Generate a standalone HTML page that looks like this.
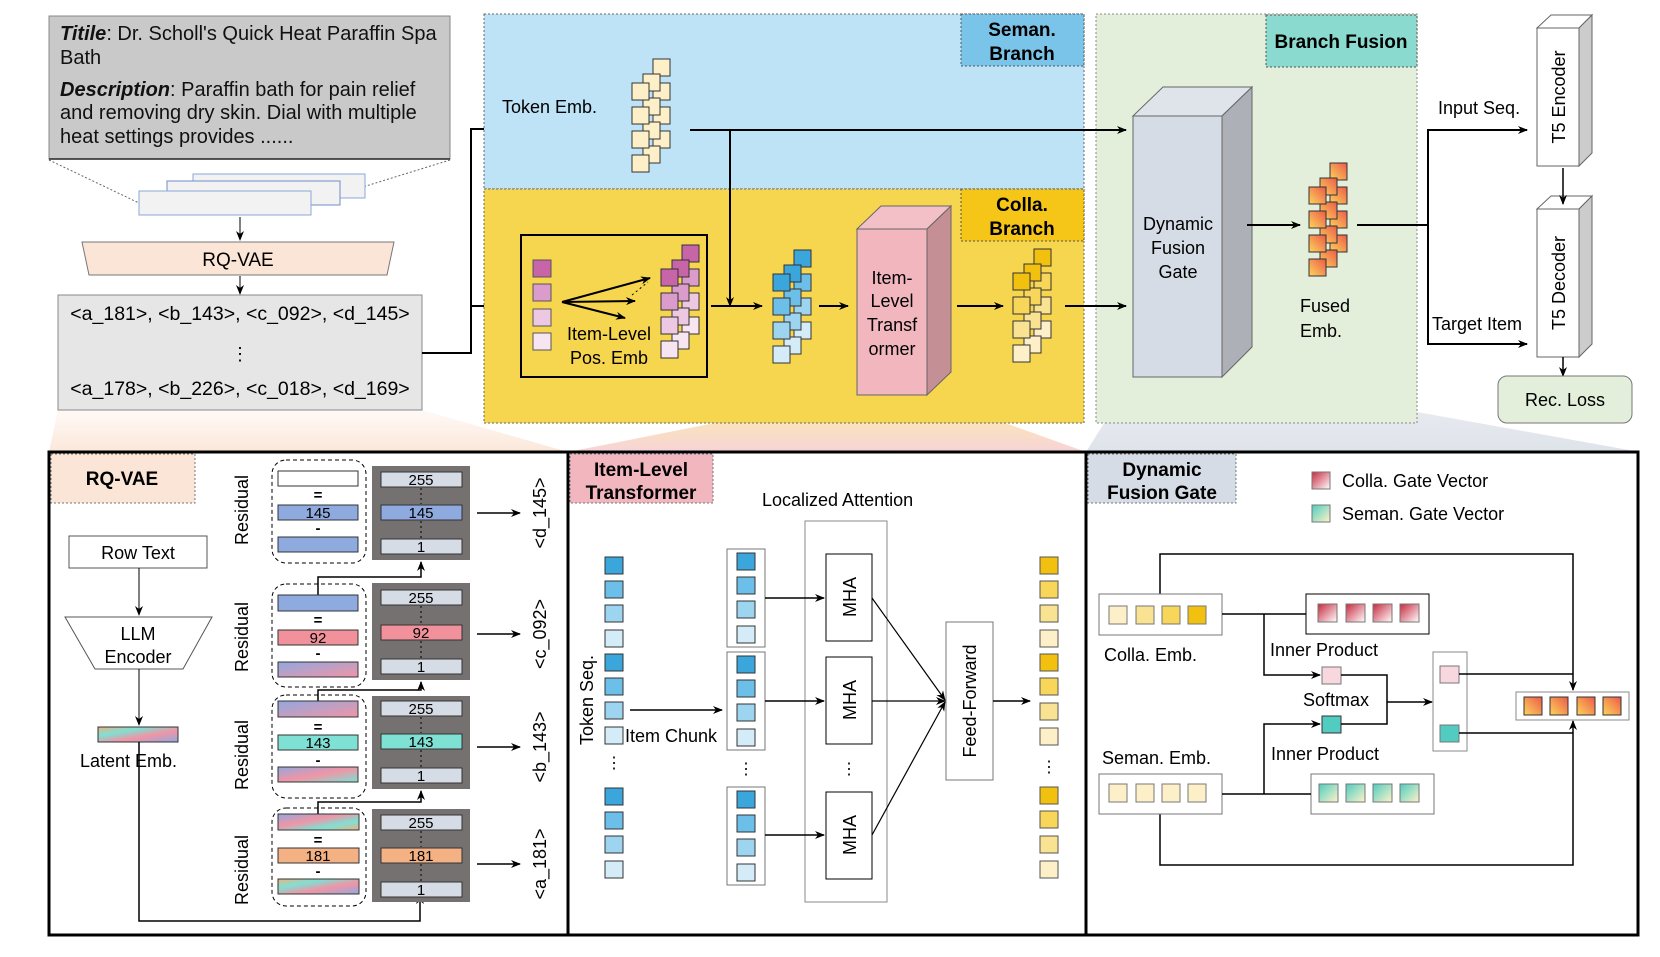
<!DOCTYPE html>
<html><head><meta charset="utf-8"><style>
html,body{margin:0;padding:0;background:#fff}
svg{display:block;font-family:"Liberation Sans",Arial,sans-serif}
</style></head><body>
<svg width="1660" height="957" viewBox="0 0 1660 957" xmlns="http://www.w3.org/2000/svg">
<defs>
<marker id="ar" markerWidth="10" markerHeight="8" refX="9" refY="4" orient="auto" markerUnits="userSpaceOnUse"><path d="M0,0 L10,4 L0,8 L3,4z" fill="#000"/></marker>
<linearGradient id="gBeige" x1="0" y1="1" x2="0" y2="0"><stop offset="0" stop-color="#fbe5d6" stop-opacity=".9"/><stop offset="1" stop-color="#fbe5d6" stop-opacity=".2"/></linearGradient>
<linearGradient id="gPink" x1="0" y1="1" x2="0" y2="0"><stop offset="0" stop-color="#f4c0c8" stop-opacity=".7"/><stop offset="1" stop-color="#f7d54e" stop-opacity=".4"/></linearGradient>
<linearGradient id="gGray" x1="0" y1="1" x2="0" y2="0"><stop offset="0" stop-color="#d6dce5" stop-opacity=".8"/><stop offset="1" stop-color="#d6dce5" stop-opacity=".4"/></linearGradient>
<linearGradient id="gOr" x1="0" y1="1" x2="1" y2="0"><stop offset="0" stop-color="#fdd55a"/><stop offset="1" stop-color="#ec5a4a"/></linearGradient>
<linearGradient id="gRed" x1="0" y1="0" x2="1" y2="1"><stop offset="0" stop-color="#c8283e"/><stop offset="1" stop-color="#fff"/></linearGradient>
<linearGradient id="gTeal" x1="0" y1="0" x2="1" y2="1"><stop offset="0" stop-color="#4ecdc0"/><stop offset="1" stop-color="#fff3c8"/></linearGradient>
<linearGradient id="gMix1" x1="0" y1="0" x2="1" y2="1"><stop offset="0" stop-color="#92a8e0"/><stop offset="1" stop-color="#f095a5"/></linearGradient>
<linearGradient id="gMix2" x1="0" y1="0" x2="1" y2="1"><stop offset="0" stop-color="#92a8e0"/><stop offset=".5" stop-color="#f095a5"/><stop offset="1" stop-color="#7fe0d4"/></linearGradient>
<linearGradient id="gMix3" x1="0" y1="0" x2="1" y2="1"><stop offset="0" stop-color="#f0b080"/><stop offset=".3" stop-color="#7fe0d4"/><stop offset=".6" stop-color="#f095a5"/><stop offset="1" stop-color="#92a8e0"/></linearGradient>
<linearGradient id="gMix4" x1="0" y1="0" x2="1" y2="1"><stop offset="0" stop-color="#92a8e0"/><stop offset=".4" stop-color="#f095a5"/><stop offset=".7" stop-color="#7fe0d4"/><stop offset="1" stop-color="#f0b080"/></linearGradient>
</defs>

<polygon points="58,410 422,410 568,452 49,452" fill="url(#gBeige)"/>
<polygon points="857,395 927,395 1086,452 568,452" fill="url(#gPink)"/>
<polygon points="1133,377 1222,377 1640,452 1086,452" fill="url(#gGray)"/>

<rect x="49" y="16" width="401" height="143" fill="#c9c9c9" stroke="#888"/>
<line x1="49" y1="159" x2="450" y2="159" stroke="#222" stroke-width="1.5"/>
<text font-size="20" fill="#111"><tspan x="60" y="40"><tspan font-weight="bold" font-style="italic">Titile</tspan>: Dr. Scholl's Quick Heat Paraffin Spa</tspan><tspan x="60" y="64">Bath</tspan><tspan x="60" y="96"><tspan font-weight="bold" font-style="italic">Description</tspan>: Paraffin bath for pain relief</tspan><tspan x="60" y="119">and removing dry skin. Dial with multiple</tspan><tspan x="60" y="143">heat settings provides  ......</tspan></text>
<line x1="49" y1="160" x2="139" y2="203" stroke="#666" stroke-dasharray="2,2"/>
<line x1="450" y1="160" x2="311" y2="203" stroke="#666" stroke-dasharray="2,2"/>
<rect x="193" y="174" width="172" height="24" fill="#f2f2f2" stroke="#8fa6d8"/>
<rect x="167" y="181" width="173" height="24" fill="#f2f2f2" stroke="#6f8cc8"/>
<rect x="139" y="191" width="172" height="24" fill="#f2f2f2" stroke="#8fa6d8"/>
<line x1="240" y1="217" x2="240" y2="240" stroke="#000" marker-end="url(#ar)"/>
<polygon points="82,242 394,242 387,275 89,275" fill="#fbe5d6" stroke="#777"/>
<text x="238" y="266" font-size="19" text-anchor="middle">RQ-VAE</text>
<line x1="240" y1="276" x2="240" y2="294" stroke="#000" marker-end="url(#ar)"/>
<rect x="58" y="295" width="364" height="115" fill="#e6e6e6" stroke="#888"/>
<text x="240" y="320" font-size="19.5" text-anchor="middle">&lt;a_181&gt;, &lt;b_143&gt;, &lt;c_092&gt;, &lt;d_145&gt;</text>
<text x="240" y="360" font-size="18" text-anchor="middle">⋮</text>
<text x="240" y="395" font-size="19.5" text-anchor="middle">&lt;a_178&gt;, &lt;b_226&gt;, &lt;c_018&gt;, &lt;d_169&gt;</text>
<polyline points="422,353 471,353 471,129 617,129" fill="none" stroke="#000" stroke-width="2" marker-end="url(#ar)"/>
<line x1="471" y1="306" x2="520" y2="306" stroke="#000" stroke-width="2" marker-end="url(#ar)"/>

<rect x="484" y="14" width="600" height="175" fill="#bee3f6" stroke="#666" stroke-dasharray="2,2"/>
<rect x="484" y="189" width="600" height="234" fill="#f7d64f" stroke="#666" stroke-dasharray="2,2"/>
<rect x="961" y="14" width="123" height="52" fill="#7bc4e9" stroke="#555" stroke-dasharray="2,2"/>
<text x="1022" y="36" font-size="19" font-weight="bold" text-anchor="middle">Seman.</text>
<text x="1022" y="60" font-size="19" font-weight="bold" text-anchor="middle">Branch</text>
<rect x="961" y="189" width="123" height="52" fill="#f5c518" stroke="#555" stroke-dasharray="2,2"/>
<text x="1022" y="211" font-size="19" font-weight="bold" text-anchor="middle">Colla.</text>
<text x="1022" y="235" font-size="19" font-weight="bold" text-anchor="middle">Branch</text>
<rect x="1096" y="14" width="321" height="409" fill="#e3efda" stroke="#888" stroke-dasharray="2,2"/>
<rect x="1266" y="15" width="151" height="52" fill="#8adad0" stroke="#555" stroke-dasharray="2,2"/>
<text x="1341" y="48" font-size="19" font-weight="bold" text-anchor="middle">Branch Fusion</text>

<text x="502" y="113" font-size="18">Token Emb.</text>
<g transform="translate(632,59)" stroke="#333" stroke-width="1">
<rect x="21" y="0" width="17" height="17" fill="#fdf0c8"/><rect x="21" y="24" width="17" height="17" fill="#fdf0c8"/><rect x="21" y="48" width="17" height="17" fill="#fdf0c8"/><rect x="21" y="72" width="17" height="17" fill="#fdf0c8"/>
<rect x="11" y="15" width="17" height="17" fill="#fdf0c8"/><rect x="11" y="39" width="17" height="17" fill="#fdf0c8"/><rect x="11" y="63" width="17" height="17" fill="#fdf0c8"/><rect x="11" y="87" width="17" height="17" fill="#fdf0c8"/>
<rect x="0" y="24" width="17" height="17" fill="#fdf0c8"/><rect x="0" y="48" width="17" height="17" fill="#fdf0c8"/><rect x="0" y="72" width="17" height="17" fill="#fdf0c8"/><rect x="0" y="96" width="17" height="17" fill="#fdf0c8"/>
</g>
<line x1="690" y1="130" x2="1126" y2="130" stroke="#000" stroke-width="2" marker-end="url(#ar)"/>
<line x1="730" y1="130" x2="730" y2="306" stroke="#000" stroke-width="2" marker-end="url(#ar)"/>

<rect x="521" y="235" width="186" height="142" fill="none" stroke="#000" stroke-width="2"/>
<rect x="533" y="260" width="18" height="17" fill="#c864a8" stroke="#555"/>
<rect x="533" y="284" width="18" height="17" fill="#dc9ccb" stroke="#555"/>
<rect x="533" y="309" width="18" height="17" fill="#ecc8e2" stroke="#555"/>
<rect x="533" y="333" width="18" height="17" fill="#f7e6f1" stroke="#555"/>
<line x1="562" y1="302" x2="650" y2="278" stroke="#000" stroke-width="2" marker-end="url(#ar)"/>
<line x1="562" y1="302" x2="635" y2="301" stroke="#000" stroke-width="2" marker-end="url(#ar)"/>
<line x1="562" y1="302" x2="625" y2="318" stroke="#000" stroke-width="2" marker-end="url(#ar)"/>
<line x1="632" y1="295" x2="648" y2="282" stroke="#000" stroke-dasharray="2,3"/>
<text x="609" y="340" font-size="18" text-anchor="middle">Item-Level</text>
<text x="609" y="364" font-size="18" text-anchor="middle">Pos. Emb</text>
<g transform="translate(661,245)" stroke="#333" stroke-width="1">
<rect x="21" y="0" width="17" height="17" fill="#c864a8"/><rect x="21" y="24" width="17" height="17" fill="#dc9ccb"/><rect x="21" y="48" width="17" height="17" fill="#ecc8e2"/><rect x="21" y="72" width="17" height="17" fill="#f7e6f1"/>
<rect x="11" y="15" width="17" height="17" fill="#c864a8"/><rect x="11" y="39" width="17" height="17" fill="#dc9ccb"/><rect x="11" y="63" width="17" height="17" fill="#ecc8e2"/><rect x="11" y="87" width="17" height="17" fill="#f7e6f1"/>
<rect x="0" y="24" width="17" height="17" fill="#c864a8"/><rect x="0" y="48" width="17" height="17" fill="#dc9ccb"/><rect x="0" y="72" width="17" height="17" fill="#ecc8e2"/><rect x="0" y="96" width="17" height="17" fill="#f7e6f1"/>
</g>
<line x1="711" y1="306" x2="762" y2="306" stroke="#000" stroke-width="2" marker-end="url(#ar)"/>
<g transform="translate(773,250)" stroke="#333" stroke-width="1">
<rect x="21" y="0" width="17" height="17" fill="#3aa6dc"/><rect x="21" y="24" width="17" height="17" fill="#6cbfe8"/><rect x="21" y="48" width="17" height="17" fill="#9dd4f0"/><rect x="21" y="72" width="17" height="17" fill="#d3ecf8"/>
<rect x="11" y="15" width="17" height="17" fill="#3aa6dc"/><rect x="11" y="39" width="17" height="17" fill="#6cbfe8"/><rect x="11" y="63" width="17" height="17" fill="#9dd4f0"/><rect x="11" y="87" width="17" height="17" fill="#d3ecf8"/>
<rect x="0" y="24" width="17" height="17" fill="#3aa6dc"/><rect x="0" y="48" width="17" height="17" fill="#6cbfe8"/><rect x="0" y="72" width="17" height="17" fill="#9dd4f0"/><rect x="0" y="96" width="17" height="17" fill="#d3ecf8"/>
</g>
<line x1="819" y1="306" x2="848" y2="306" stroke="#000" stroke-width="2" marker-end="url(#ar)"/>
<polygon points="857,229 881,206 951,206 927,229" fill="#f4c0c8" stroke="#666"/>
<polygon points="927,229 951,206 951,372 927,395" fill="#c58f96" stroke="#666"/>
<rect x="857" y="229" width="70" height="166" fill="#f2b6bf" stroke="#666"/>
<text x="892" y="284" font-size="18" text-anchor="middle">Item-</text>
<text x="892" y="307" font-size="18" text-anchor="middle">Level</text>
<text x="892" y="331" font-size="18" text-anchor="middle">Transf</text>
<text x="892" y="355" font-size="18" text-anchor="middle">ormer</text>
<line x1="957" y1="306" x2="1003" y2="306" stroke="#000" stroke-width="2" marker-end="url(#ar)"/>
<g transform="translate(1013,249)" stroke="#333" stroke-width="1">
<rect x="21" y="0" width="17" height="17" fill="#f2c110"/><rect x="21" y="24" width="17" height="17" fill="#f8d65a"/><rect x="21" y="48" width="17" height="17" fill="#fae293"/><rect x="21" y="72" width="17" height="17" fill="#fdf0c8"/>
<rect x="11" y="15" width="17" height="17" fill="#f2c110"/><rect x="11" y="39" width="17" height="17" fill="#f8d65a"/><rect x="11" y="63" width="17" height="17" fill="#fae293"/><rect x="11" y="87" width="17" height="17" fill="#fdf0c8"/>
<rect x="0" y="24" width="17" height="17" fill="#f2c110"/><rect x="0" y="48" width="17" height="17" fill="#f8d65a"/><rect x="0" y="72" width="17" height="17" fill="#fae293"/><rect x="0" y="96" width="17" height="17" fill="#fdf0c8"/>
</g>
<line x1="1065" y1="306" x2="1126" y2="306" stroke="#000" stroke-width="2" marker-end="url(#ar)"/>

<polygon points="1133,116 1163,87 1252,87 1222,116" fill="#dfe3ea" stroke="#666"/>
<polygon points="1222,116 1252,87 1252,347 1222,377" fill="#adb0b6" stroke="#666"/>
<rect x="1133" y="116" width="89" height="261" fill="#d6dce5" stroke="#666"/>
<text x="1178" y="230" font-size="18" text-anchor="middle">Dynamic</text>
<text x="1178" y="254" font-size="18" text-anchor="middle">Fusion</text>
<text x="1178" y="278" font-size="18" text-anchor="middle">Gate</text>
<line x1="1247" y1="225" x2="1300" y2="225" stroke="#000" stroke-width="2" marker-end="url(#ar)"/>
<g transform="translate(1309,163)" stroke="#333" stroke-width="1">
<rect x="21" y="0" width="17" height="17" fill="url(#gOr)"/><rect x="21" y="24" width="17" height="17" fill="url(#gOr)"/><rect x="21" y="48" width="17" height="17" fill="url(#gOr)"/><rect x="21" y="72" width="17" height="17" fill="url(#gOr)"/>
<rect x="11" y="15" width="17" height="17" fill="url(#gOr)"/><rect x="11" y="39" width="17" height="17" fill="url(#gOr)"/><rect x="11" y="63" width="17" height="17" fill="url(#gOr)"/><rect x="11" y="87" width="17" height="17" fill="url(#gOr)"/>
<rect x="0" y="24" width="17" height="17" fill="url(#gOr)"/><rect x="0" y="48" width="17" height="17" fill="url(#gOr)"/><rect x="0" y="72" width="17" height="17" fill="url(#gOr)"/><rect x="0" y="96" width="17" height="17" fill="url(#gOr)"/>
</g>
<text x="1300" y="312" font-size="18">Fused</text>
<text x="1300" y="337" font-size="18">Emb.</text>
<line x1="1357" y1="225" x2="1428" y2="225" stroke="#000" stroke-width="2"/>
<polyline points="1428,130 1428,344" fill="none" stroke="#000" stroke-width="2"/>
<line x1="1427" y1="130" x2="1527" y2="130" stroke="#000" stroke-width="2" marker-end="url(#ar)"/>
<line x1="1427" y1="344" x2="1527" y2="344" stroke="#000" stroke-width="2" marker-end="url(#ar)"/>
<text x="1438" y="114" font-size="18">Input Seq.</text>
<text x="1432" y="330" font-size="18">Target Item</text>
<polygon points="1537,28 1551,15 1592,15 1579,28" fill="#fff" stroke="#666"/>
<polygon points="1579,28 1592,15 1592,153 1579,166" fill="#ccc" stroke="#666"/>
<rect x="1537" y="28" width="42" height="138" fill="#fff" stroke="#666"/>
<text transform="translate(1565,97) rotate(-90)" font-size="18" text-anchor="middle">T5 Encoder</text>
<polygon points="1537,209 1551,196 1592,196 1579,209" fill="#fff" stroke="#666"/>
<polygon points="1579,209 1592,196 1592,344 1579,357" fill="#ccc" stroke="#666"/>
<rect x="1537" y="209" width="42" height="148" fill="#fff" stroke="#666"/>
<text transform="translate(1565,283) rotate(-90)" font-size="18" text-anchor="middle">T5 Decoder</text>
<line x1="1563" y1="168" x2="1563" y2="204" stroke="#000" stroke-width="1.5" marker-end="url(#ar)"/>
<line x1="1563" y1="357" x2="1563" y2="376" stroke="#000" stroke-width="1.5" marker-end="url(#ar)"/>
<rect x="1498" y="376" width="134" height="47" rx="9" fill="#e3efda" stroke="#777"/>
<text x="1565" y="406" font-size="18" text-anchor="middle">Rec. Loss</text>

<rect x="49" y="452" width="1591" height="483" fill="#fff" stroke="none"/>
<rect x="49" y="452" width="519" height="483" fill="none" stroke="#000" stroke-width="3"/>
<rect x="568" y="452" width="518" height="483" fill="none" stroke="#000" stroke-width="3"/>
<rect x="1086" y="452" width="552" height="483" fill="none" stroke="#000" stroke-width="3"/>

<rect x="51" y="454" width="144" height="49" fill="#fbe5d6" stroke="#777" stroke-dasharray="2,2"/>
<text x="122" y="485" font-size="19" font-weight="bold" text-anchor="middle">RQ-VAE</text>
<rect x="69" y="536" width="138" height="32" fill="#fff" stroke="#555"/>
<text x="138" y="559" font-size="18" text-anchor="middle">Row Text</text>
<line x1="139" y1="568" x2="139" y2="615" stroke="#000" marker-end="url(#ar)"/>
<polygon points="65,617 212,617 183,669 95,669" fill="#fff" stroke="#555"/>
<text x="138" y="640" font-size="18" text-anchor="middle">LLM</text>
<text x="138" y="663" font-size="18" text-anchor="middle">Encoder</text>
<line x1="139" y1="669" x2="139" y2="725" stroke="#000" marker-end="url(#ar)"/>
<rect x="98" y="727" width="80" height="15" fill="url(#gMix3)" stroke="#333"/>
<text x="80" y="767" font-size="18">Latent Emb.</text>
<polyline points="139,742 139,921 420,921 420,895" fill="none" stroke="#000" stroke-width="1.5" marker-end="url(#ar)"/>

<g font-size="15" text-anchor="middle">
<text transform="translate(248,510) rotate(-90)" font-size="18">Residual</text>
<rect x="272" y="460" width="94" height="103" rx="14" fill="none" stroke="#000" stroke-dasharray="4,3"/>
<rect x="278" y="471" width="80" height="15" fill="#fff" stroke="#333"/>
<text x="318" y="500" font-weight="bold">=</text>
<rect x="278" y="505" width="80" height="15" fill="#8faadf" stroke="#333"/><text x="318" y="518">145</text>
<text x="318" y="533" font-weight="bold">-</text>
<rect x="278" y="537" width="80" height="15" fill="#8faadf" stroke="#333"/>
<rect x="372" y="466" width="98" height="94" fill="#767171"/>
<rect x="381" y="472" width="81" height="15" fill="#d6dce5" stroke="#333"/><text x="421" y="485">255</text>
<rect x="381" y="505" width="81" height="15" fill="#8faadf" stroke="#333"/><text x="421" y="518">145</text>
<rect x="381" y="539" width="81" height="15" fill="#d6dce5" stroke="#333"/><text x="421" y="552">1</text>
<line x1="421" y1="488" x2="421" y2="504" stroke="#000" stroke-dasharray="2,3"/>
<line x1="421" y1="521" x2="421" y2="538" stroke="#000" stroke-dasharray="2,3"/>
<line x1="477" y1="513" x2="520" y2="513" stroke="#000" stroke-width="1.5" marker-end="url(#ar)"/>
<text transform="translate(546,513) rotate(-90)" font-size="18">&lt;d_145&gt;</text>
<polyline points="318,595 318,577 421,577 421,562" fill="none" stroke="#000" stroke-width="1.5" marker-end="url(#ar)"/>
<text transform="translate(248,637) rotate(-90)" font-size="18">Residual</text>
<rect x="272" y="584" width="94" height="103" rx="14" fill="none" stroke="#000" stroke-dasharray="4,3"/>
<rect x="278" y="595" width="80" height="16" fill="#8faadf" stroke="#333"/>
<text x="318" y="625" font-weight="bold">=</text>
<rect x="278" y="630" width="80" height="15" fill="#f0919b" stroke="#333"/><text x="318" y="643">92</text>
<text x="318" y="658" font-weight="bold">-</text>
<rect x="278" y="662" width="80" height="15" fill="url(#gMix1)" stroke="#333"/>
<rect x="372" y="583" width="98" height="97" fill="#767171"/>
<rect x="381" y="590" width="81" height="15" fill="#d6dce5" stroke="#333"/><text x="421" y="603">255</text>
<rect x="381" y="625" width="81" height="15" fill="#f0919b" stroke="#333"/><text x="421" y="638">92</text>
<rect x="381" y="659" width="81" height="15" fill="#d6dce5" stroke="#333"/><text x="421" y="672">1</text>
<line x1="421" y1="606" x2="421" y2="624" stroke="#000" stroke-dasharray="2,3"/>
<line x1="421" y1="641" x2="421" y2="658" stroke="#000" stroke-dasharray="2,3"/>
<line x1="477" y1="634" x2="520" y2="634" stroke="#000" stroke-width="1.5" marker-end="url(#ar)"/>
<text transform="translate(546,634) rotate(-90)" font-size="18">&lt;c_092&gt;</text>
<polyline points="318,701 318,690 421,690 421,682" fill="none" stroke="#000" stroke-width="1.5" marker-end="url(#ar)"/>
<text transform="translate(248,755) rotate(-90)" font-size="18">Residual</text>
<rect x="272" y="695" width="94" height="103" rx="14" fill="none" stroke="#000" stroke-dasharray="4,3"/>
<rect x="278" y="701" width="80" height="16" fill="url(#gMix1)" stroke="#333"/>
<text x="318" y="732" font-weight="bold">=</text>
<rect x="278" y="735" width="80" height="15" fill="#7fe0d4" stroke="#333"/><text x="318" y="748">143</text>
<text x="318" y="765" font-weight="bold">-</text>
<rect x="278" y="767" width="80" height="15" fill="url(#gMix2)" stroke="#333"/>
<rect x="372" y="696" width="98" height="93" fill="#767171"/>
<rect x="381" y="701" width="81" height="15" fill="#d6dce5" stroke="#333"/><text x="421" y="714">255</text>
<rect x="381" y="734" width="81" height="15" fill="#7fe0d4" stroke="#333"/><text x="421" y="747">143</text>
<rect x="381" y="768" width="81" height="15" fill="#d6dce5" stroke="#333"/><text x="421" y="781">1</text>
<line x1="421" y1="717" x2="421" y2="733" stroke="#000" stroke-dasharray="2,3"/>
<line x1="421" y1="750" x2="421" y2="767" stroke="#000" stroke-dasharray="2,3"/>
<line x1="477" y1="747" x2="520" y2="747" stroke="#000" stroke-width="1.5" marker-end="url(#ar)"/>
<text transform="translate(546,747) rotate(-90)" font-size="18">&lt;b_143&gt;</text>
<polyline points="318,814 318,802 421,802 421,791" fill="none" stroke="#000" stroke-width="1.5" marker-end="url(#ar)"/>
<text transform="translate(248,870) rotate(-90)" font-size="18">Residual</text>
<rect x="272" y="808" width="94" height="98" rx="14" fill="none" stroke="#000" stroke-dasharray="4,3"/>
<rect x="278" y="814" width="81" height="16" fill="url(#gMix4)" stroke="#333"/>
<text x="318" y="845" font-weight="bold">=</text>
<rect x="278" y="848" width="81" height="15" fill="#f4b183" stroke="#333"/><text x="318" y="861">181</text>
<text x="318" y="876" font-weight="bold">-</text>
<rect x="278" y="879" width="81" height="15" fill="url(#gMix3)" stroke="#333"/>
<rect x="372" y="809" width="98" height="93" fill="#767171"/>
<rect x="381" y="815" width="81" height="15" fill="#d6dce5" stroke="#333"/><text x="421" y="828">255</text>
<rect x="381" y="848" width="81" height="15" fill="#f4b183" stroke="#333"/><text x="421" y="861">181</text>
<rect x="381" y="882" width="81" height="15" fill="#d6dce5" stroke="#333"/><text x="421" y="895">1</text>
<line x1="421" y1="831" x2="421" y2="847" stroke="#000" stroke-dasharray="2,3"/>
<line x1="421" y1="864" x2="421" y2="881" stroke="#000" stroke-dasharray="2,3"/>
<line x1="477" y1="864" x2="520" y2="864" stroke="#000" stroke-width="1.5" marker-end="url(#ar)"/>
<text transform="translate(546,864) rotate(-90)" font-size="18">&lt;a_181&gt;</text>
</g>

<rect x="570" y="454" width="143" height="49" fill="#f2b6bf" stroke="#777" stroke-dasharray="2,2"/>
<text x="641" y="476" font-size="19" font-weight="bold" text-anchor="middle">Item-Level</text>
<text x="641" y="499" font-size="19" font-weight="bold" text-anchor="middle">Transformer</text>
<text x="762" y="506" font-size="18">Localized Attention</text>
<g stroke="#333">
<rect x="605" y="557" width="18" height="17" fill="#3aa6dc"/><rect x="605" y="581" width="18" height="17" fill="#6cbfe8"/><rect x="605" y="605" width="18" height="17" fill="#9dd4f0"/><rect x="605" y="630" width="18" height="17" fill="#d3ecf8"/>
<rect x="605" y="654" width="18" height="17" fill="#3aa6dc"/><rect x="605" y="678" width="18" height="17" fill="#6cbfe8"/><rect x="605" y="702" width="18" height="17" fill="#9dd4f0"/><rect x="605" y="727" width="18" height="17" fill="#d3ecf8"/>
<rect x="605" y="788" width="18" height="17" fill="#3aa6dc"/><rect x="605" y="812" width="18" height="17" fill="#6cbfe8"/><rect x="605" y="836" width="18" height="17" fill="#9dd4f0"/><rect x="605" y="861" width="18" height="17" fill="#d3ecf8"/>
</g>
<text x="614" y="768" font-size="16" text-anchor="middle">⋮</text>
<text transform="translate(593,700) rotate(-90)" font-size="18" text-anchor="middle">Token Seq.</text>
<text x="625" y="742" font-size="18">Item Chunk</text>
<line x1="630" y1="710" x2="722" y2="710" stroke="#000" stroke-width="1.5" marker-end="url(#ar)"/>
<g stroke="#333">
<rect x="727" y="549" width="38" height="98" fill="#fff" stroke="#777"/>
<rect x="737" y="553" width="18" height="17" fill="#3aa6dc"/><rect x="737" y="577" width="18" height="17" fill="#6cbfe8"/><rect x="737" y="601" width="18" height="17" fill="#9dd4f0"/><rect x="737" y="626" width="18" height="17" fill="#d3ecf8"/>
<rect x="727" y="652" width="38" height="98" fill="#fff" stroke="#777"/>
<rect x="737" y="656" width="18" height="17" fill="#3aa6dc"/><rect x="737" y="680" width="18" height="17" fill="#6cbfe8"/><rect x="737" y="704" width="18" height="17" fill="#9dd4f0"/><rect x="737" y="729" width="18" height="17" fill="#d3ecf8"/>
<rect x="727" y="787" width="38" height="98" fill="#fff" stroke="#777"/>
<rect x="737" y="791" width="18" height="17" fill="#3aa6dc"/><rect x="737" y="815" width="18" height="17" fill="#6cbfe8"/><rect x="737" y="839" width="18" height="17" fill="#9dd4f0"/><rect x="737" y="864" width="18" height="17" fill="#d3ecf8"/>
</g>
<text x="746" y="774" font-size="16" text-anchor="middle">⋮</text>
<rect x="805" y="521" width="82" height="381" fill="none" stroke="#888"/>
<rect x="826" y="554" width="46" height="87" fill="#fff" stroke="#000"/>
<rect x="826" y="657" width="46" height="87" fill="#fff" stroke="#000"/>
<rect x="826" y="792" width="46" height="87" fill="#fff" stroke="#000"/>
<text transform="translate(856,597) rotate(-90)" font-size="18" text-anchor="middle">MHA</text>
<text transform="translate(856,700) rotate(-90)" font-size="18" text-anchor="middle">MHA</text>
<text transform="translate(856,835) rotate(-90)" font-size="18" text-anchor="middle">MHA</text>
<text x="849" y="774" font-size="16" text-anchor="middle">⋮</text>
<line x1="765" y1="598" x2="824" y2="598" stroke="#000" stroke-width="1.5" marker-end="url(#ar)"/>
<line x1="765" y1="701" x2="824" y2="701" stroke="#000" stroke-width="1.5" marker-end="url(#ar)"/>
<line x1="765" y1="835" x2="824" y2="835" stroke="#000" stroke-width="1.5" marker-end="url(#ar)"/>
<line x1="872" y1="598" x2="945" y2="700" stroke="#000" stroke-width="1.2" marker-end="url(#ar)"/>
<line x1="872" y1="701" x2="945" y2="701" stroke="#000" stroke-width="1.2" marker-end="url(#ar)"/>
<line x1="872" y1="835" x2="945" y2="702" stroke="#000" stroke-width="1.2" marker-end="url(#ar)"/>
<rect x="946" y="622" width="47" height="158" fill="#fff" stroke="#777"/>
<text transform="translate(976,701) rotate(-90)" font-size="18" text-anchor="middle">Feed-Forward</text>
<line x1="993" y1="701" x2="1030" y2="701" stroke="#000" stroke-width="1.5" marker-end="url(#ar)"/>
<g stroke="#555">
<rect x="1040" y="557" width="18" height="17" fill="#f2c110"/><rect x="1040" y="581" width="18" height="17" fill="#f8d65a"/><rect x="1040" y="605" width="18" height="17" fill="#fae293"/><rect x="1040" y="630" width="18" height="17" fill="#fdf0c8"/>
<rect x="1040" y="654" width="18" height="17" fill="#f2c110"/><rect x="1040" y="678" width="18" height="17" fill="#f8d65a"/><rect x="1040" y="703" width="18" height="17" fill="#fae293"/><rect x="1040" y="728" width="18" height="17" fill="#fdf0c8"/>
<rect x="1040" y="787" width="18" height="17" fill="#f2c110"/><rect x="1040" y="811" width="18" height="17" fill="#f8d65a"/><rect x="1040" y="836" width="18" height="17" fill="#fae293"/><rect x="1040" y="861" width="18" height="17" fill="#fdf0c8"/>
</g>
<text x="1049" y="772" font-size="16" text-anchor="middle">⋮</text>

<rect x="1088" y="454" width="148" height="49" fill="#d6dce5" stroke="#777" stroke-dasharray="2,2"/>
<text x="1162" y="476" font-size="19" font-weight="bold" text-anchor="middle">Dynamic</text>
<text x="1162" y="499" font-size="19" font-weight="bold" text-anchor="middle">Fusion Gate</text>
<rect x="1312" y="472" width="18" height="17" fill="url(#gRed)" stroke="#777"/>
<text x="1342" y="487" font-size="18">Colla. Gate Vector</text>
<rect x="1312" y="505" width="18" height="17" fill="url(#gTeal)" stroke="#777"/>
<text x="1342" y="520" font-size="18">Seman. Gate Vector</text>

<polyline points="1160,594 1160,554 1573,554 1573,690" fill="none" stroke="#000" stroke-width="1.5" marker-end="url(#ar)"/>
<polyline points="1160,814 1160,865 1573,865 1573,721" fill="none" stroke="#000" stroke-width="1.5" marker-end="url(#ar)"/>
<rect x="1099" y="594" width="123" height="41" fill="#fff" stroke="#777"/>
<g stroke="#777"><rect x="1109" y="606" width="18" height="18" fill="#fdf0c8"/><rect x="1136" y="606" width="18" height="18" fill="#fae293"/><rect x="1162" y="606" width="18" height="18" fill="#f8d65a"/><rect x="1188" y="606" width="18" height="18" fill="#f2c110"/></g>
<text x="1104" y="661" font-size="18">Colla. Emb.</text>
<rect x="1306" y="594" width="123" height="40" fill="#fff" stroke="#000"/>
<g stroke="#777"><rect x="1318" y="604" width="19" height="18" fill="url(#gRed)"/><rect x="1346" y="604" width="19" height="18" fill="url(#gRed)"/><rect x="1373" y="604" width="19" height="18" fill="url(#gRed)"/><rect x="1400" y="604" width="19" height="18" fill="url(#gRed)"/></g>
<line x1="1222" y1="614" x2="1306" y2="614" stroke="#000" stroke-width="1.5"/>
<polyline points="1264,614 1264,675 1320,675" fill="none" stroke="#000" stroke-width="1.5" marker-end="url(#ar)"/>
<text x="1270" y="656" font-size="18">Inner Product</text>
<rect x="1322" y="667" width="19" height="17" fill="#f8d8de" stroke="#777"/>
<text x="1303" y="706" font-size="18">Softmax</text>
<rect x="1322" y="716" width="19" height="17" fill="#52cbc0" stroke="#333"/>
<polyline points="1341,675 1387,675 1387,724 1341,724" fill="none" stroke="#000" stroke-width="1.5"/>
<line x1="1387" y1="702" x2="1432" y2="702" stroke="#000" stroke-width="1.5" marker-end="url(#ar)"/>
<rect x="1099" y="774" width="123" height="40" fill="#fff" stroke="#777"/>
<g stroke="#777"><rect x="1109" y="784" width="18" height="18" fill="#fdf0c8"/><rect x="1136" y="784" width="18" height="18" fill="#fdf0c8"/><rect x="1162" y="784" width="18" height="18" fill="#fdf0c8"/><rect x="1188" y="784" width="18" height="18" fill="#fdf0c8"/></g>
<text x="1102" y="764" font-size="18">Seman. Emb.</text>
<rect x="1311" y="774" width="123" height="40" fill="#fff" stroke="#777"/>
<g stroke="#777"><rect x="1319" y="784" width="19" height="18" fill="url(#gTeal)"/><rect x="1346" y="784" width="19" height="18" fill="url(#gTeal)"/><rect x="1373" y="784" width="19" height="18" fill="url(#gTeal)"/><rect x="1400" y="784" width="19" height="18" fill="url(#gTeal)"/></g>
<line x1="1222" y1="794" x2="1311" y2="794" stroke="#000" stroke-width="1.5"/>
<polyline points="1264,794 1264,724 1320,724" fill="none" stroke="#000" stroke-width="1.5" marker-end="url(#ar)"/>
<text x="1271" y="760" font-size="18">Inner Product</text>
<rect x="1433" y="652" width="34" height="99" fill="#fff" stroke="#888"/>
<rect x="1440" y="666" width="19" height="17" fill="#f8d8de" stroke="#777"/>
<rect x="1440" y="725" width="19" height="17" fill="#52cbc0" stroke="#777"/>
<line x1="1459" y1="674" x2="1573" y2="674" stroke="#000" stroke-width="1.5"/>
<line x1="1459" y1="733" x2="1573" y2="733" stroke="#000" stroke-width="1.5"/>
<rect x="1516" y="692" width="113" height="28" fill="#fff" stroke="#888"/>
<g stroke="#333"><rect x="1524" y="697" width="18" height="18" fill="url(#gOr)"/><rect x="1550" y="697" width="18" height="18" fill="url(#gOr)"/><rect x="1577" y="697" width="18" height="18" fill="url(#gOr)"/><rect x="1603" y="697" width="18" height="18" fill="url(#gOr)"/></g>
</svg>
</body></html>
